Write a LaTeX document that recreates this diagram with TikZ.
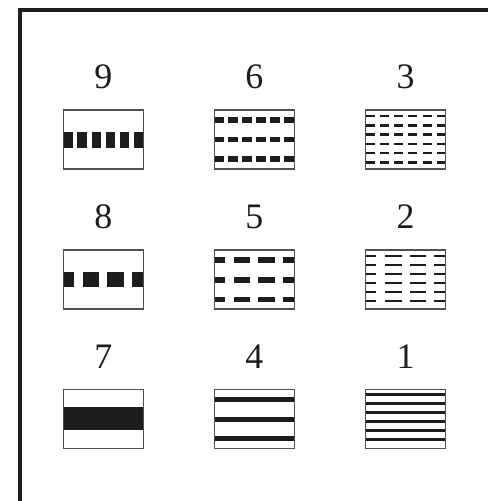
\documentclass[tikz,border=0pt]{standalone}
\usepackage{fontspec}
\setmainfont{Liberation Serif}
\definecolor{inkblack}{HTML}{1C1C1C}
\definecolor{boxgray}{HTML}{505050}
\definecolor{framecol}{HTML}{1E1E1E}
\begin{document}
\begin{tikzpicture}[x=1bp,y=-1bp,
  box/.style={draw=boxgray, line width=1.3bp, minimum width=80bp, minimum height=59bp, inner sep=0pt, outer sep=0pt},
  lbl/.style={font=\fontsize{36}{36}\selectfont, inner sep=0pt, text=inkblack},
  ink/.style={fill=inkblack}]
\useasboundingbox (0,0) rectangle (488,501);
\fill[white] (0,0) rectangle (488,501);
\draw[line width=3.6bp, framecol] (19.7,501) -- (19.7,10) -- (488,10);

% labels
\node[lbl] (l9) at (103.3,77) {9};
\node[lbl] (l6) at (254.3,77) {6};
\node[lbl] (l3) at (405.7,77) {3};
\node[lbl] (l8) at (103.3,217) {8};
\node[lbl] (l5) at (254.3,217) {5};
\node[lbl] (l2) at (405.7,217) {2};
\node[lbl] (l7) at (103.3,357) {7};
\node[lbl] (l4) at (254.3,357) {4};
\node[lbl] (l1) at (405.7,357) {1};

% patterns (local coords: origin at box north-west, y down)
% box 9
\begin{scope}[shift={(63.3,110)}]
  \foreach \i in {0,...,5} \fill[ink] (\i*14.1,22.3) rectangle +(9.5,15.4);
\end{scope}
% box 6
\begin{scope}[shift={(214.3,110)}]
  \foreach \r in {10,29.5,49.2}
    \foreach \i in {0,...,5} \fill[ink] (\i*14,\r-2.7) rectangle +(10,5.4);
\end{scope}
% box 3
\begin{scope}[shift={(365.7,110)}]
  \foreach \j in {0,...,5}
    \foreach \i in {0,...,5} \fill[ink] (\i*14.2,6.2+\j*9.25-1.3) rectangle +(9,2.6);
\end{scope}
% box 8
\begin{scope}[shift={(63.3,250)}]
  \foreach \a/\b in {0/10.7,19.4/36,44/60.7,68.4/80} \fill[ink] (\a,22.3) rectangle (\b,36.7);
\end{scope}
% box 5
\begin{scope}[shift={(214.3,250)}]
  \foreach \r in {10,29.8,49.3}
    \foreach \a/\b in {0/10.7,19.4/36,44/60.7,68.4/80} \fill[ink] (\a,\r-2.7) rectangle (\b,\r+2.7);
\end{scope}
% box 2
\begin{scope}[shift={(365.7,250)}]
  \foreach \j in {0,...,5}
    \foreach \a/\b in {0/10.7,19.4/36,44/60.7,68.4/80} \fill[ink] (\a,6+\j*9-1.3) rectangle (\b,6+\j*9+1.3);
\end{scope}
% box 7
\begin{scope}[shift={(63.3,389.3)}]
  \fill[ink] (0,17.7) rectangle (80,40.3);
\end{scope}
% box 4
\begin{scope}[shift={(214.3,389.3)}]
  \foreach \r in {9.7,29.7,49} \fill[ink] (0,\r-2.5) rectangle (80,\r+2.5);
\end{scope}
% box 1
\begin{scope}[shift={(365.7,389.3)}]
  \foreach \j in {0,...,5} \fill[ink] (0,5.5+\j*9-1.5) rectangle (80,5.5+\j*9+1.5);
\end{scope}

% boxes
\node[box] (b9) at (103.3,139.5) {};
\node[box] (b6) at (254.3,139.5) {};
\node[box] (b3) at (405.7,139.5) {};
\node[box] (b8) at (103.3,279.5) {};
\node[box] (b5) at (254.3,279.5) {};
\node[box] (b2) at (405.7,279.5) {};
\node[box] (b7) at (103.3,418.8) {};
\node[box] (b4) at (254.3,418.8) {};
\node[box] (b1) at (405.7,418.8) {};
\end{tikzpicture}
\end{document}
